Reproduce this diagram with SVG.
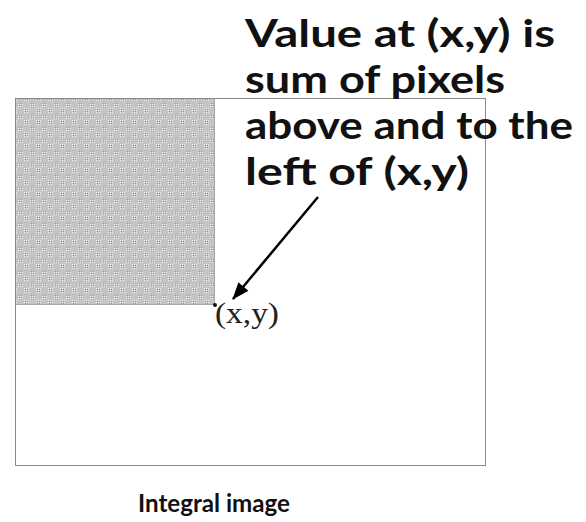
<svg xmlns="http://www.w3.org/2000/svg" width="586" height="522" viewBox="0 0 586 522">
<style>
.big{font-family:"Lato","DejaVu Sans",sans-serif;font-weight:bold;font-size:38px;fill:#111}
.cap{font-family:"Lato","DejaVu Sans",sans-serif;font-weight:bold;font-size:25px;fill:#111}
.pt{font-family:"Liberation Serif","Times New Roman",serif;font-size:30px;fill:#222}
</style>
<defs>
<pattern id="dots" width="12" height="12" patternUnits="userSpaceOnUse">
<rect width="12" height="12" fill="#c4c4c4"/>
<rect x="0" y="0" width="1" height="1" fill="#eee"/>
<rect x="2" y="0" width="1" height="1" fill="#eee"/>
<rect x="4" y="0" width="1" height="1" fill="#eee"/>
<rect x="1" y="1" width="1" height="1" fill="#999"/>
<rect x="3" y="1" width="1" height="1" fill="#999"/>
<rect x="0" y="2" width="1" height="1" fill="#eee"/>
<rect x="2" y="2" width="1" height="1" fill="#eee"/>
<rect x="4" y="2" width="1" height="1" fill="#eee"/>
<rect x="1" y="3" width="1" height="1" fill="#999"/>
<rect x="3" y="3" width="1" height="1" fill="#999"/>
<rect x="0" y="4" width="1" height="1" fill="#eee"/>
<rect x="2" y="4" width="1" height="1" fill="#eee"/>
<rect x="4" y="4" width="1" height="1" fill="#eee"/>
<rect x="7" y="7" width="1" height="1" fill="#999"/>
<rect x="9" y="7" width="1" height="1" fill="#999"/>
<rect x="6" y="8" width="1" height="1" fill="#eee"/>
<rect x="8" y="8" width="1" height="1" fill="#eee"/>
<rect x="10" y="8" width="1" height="1" fill="#eee"/>
<rect x="7" y="9" width="1" height="1" fill="#999"/>
<rect x="9" y="9" width="1" height="1" fill="#999"/>
<rect x="6" y="10" width="1" height="1" fill="#eee"/>
<rect x="8" y="10" width="1" height="1" fill="#eee"/>
<rect x="10" y="10" width="1" height="1" fill="#eee"/>
</pattern>
<marker id="ahb" viewBox="0 0 16 12" refX="15" refY="6" markerWidth="18" markerHeight="13" markerUnits="userSpaceOnUse" orient="auto">
<path d="M0,0 L16,6 L0,12 z" fill="#000"/>
</marker>
</defs>
<g id="image">
<rect x="15.5" y="98.5" width="470" height="367" fill="#fff" stroke="#8a8a8a" stroke-width="1"/>
</g>
<g id="region">
<rect x="15.5" y="98.5" width="199" height="206" fill="url(#dots)" stroke="#6a6a6a" stroke-width="1" stroke-dasharray="1 1"/>
</g>
<g id="point">
<circle cx="215" cy="305" r="2" fill="#111"/>
<text class="pt" x="215" y="323" textLength="64" lengthAdjust="spacingAndGlyphs">(x,y)</text>
</g>
<g id="note">
<text class="big" x="245" y="47" textLength="310" lengthAdjust="spacingAndGlyphs">Value at (x,y) is</text>
<text class="big" x="245" y="93" textLength="260" lengthAdjust="spacingAndGlyphs">sum of pixels</text>
<text class="big" x="245" y="139" textLength="328" lengthAdjust="spacingAndGlyphs">above and to the</text>
<text class="big" x="245" y="185" textLength="224" lengthAdjust="spacingAndGlyphs">left of (x,y)</text>
</g>
<g id="caption">
<text class="cap" x="138" y="512" textLength="152" lengthAdjust="spacingAndGlyphs">Integral image</text>
</g>
<g id="connectors">
<line x1="318" y1="197" x2="233" y2="299" stroke="#000" stroke-width="2.5" marker-end="url(#ahb)"/>
</g>
</svg>
